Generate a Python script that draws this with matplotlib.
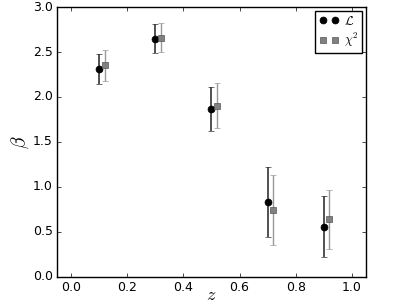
import matplotlib
matplotlib.use("Agg")
import matplotlib.pyplot as plt
from matplotlib.lines import Line2D

plt.style.use('classic')

# redshift bins and beta estimates from the two methods
z_like = [0.1, 0.3, 0.5, 0.7, 0.9]
beta_like = [2.31, 2.65, 1.87, 0.83, 0.56]
err_like = [0.17, 0.16, 0.245, 0.39, 0.34]

z_chi2 = [0.12, 0.32, 0.52, 0.72, 0.92]
beta_chi2 = [2.35, 2.66, 1.90, 0.74, 0.64]
err_chi2 = [0.17, 0.16, 0.25, 0.39, 0.33]

fig = plt.figure(figsize=(4.07, 3.05), dpi=100, facecolor='white')
ax = fig.add_axes([0.14, 0.092, 0.759, 0.885])

ax.errorbar(z_like, beta_like, yerr=err_like, fmt='o', color='black',
            ecolor='#333333', ms=5, mec='black', capsize=2, elinewidth=1.2)
ax.errorbar(z_chi2, beta_chi2, yerr=err_chi2, fmt='s', color='#808080',
            ecolor='#999999', ms=5, mec='#555555', capsize=2, elinewidth=1.0)

ax.set_xlim(-0.05, 1.05)
ax.set_ylim(0, 3)
ax.set_xticks([0.0, 0.2, 0.4, 0.6, 0.8, 1.0])
ax.set_yticks([0.0, 0.5, 1.0, 1.5, 2.0, 2.5, 3.0])
ax.tick_params(labelsize=9, length=3, pad=3)
ax.set_xlabel(r'$z$', fontsize=13, labelpad=-6)
ax.set_ylabel(r'$\beta$', fontsize=14, labelpad=1)

# legend shows only markers, no error bars
handles = [Line2D([], [], ls='none', marker='o', color='black', ms=5),
           Line2D([], [], ls='none', marker='s', color='#808080', mec='#555555', ms=5)]
ax.legend(handles, [r'$\mathcal{L}$', r'$\chi^2$'], loc='upper right',
          numpoints=2, fontsize=9, handlelength=1.6, borderpad=0.3,
          handletextpad=0.4, borderaxespad=0.3, labelspacing=0.3)

fig.savefig('out.png', dpi=100, facecolor='white')
